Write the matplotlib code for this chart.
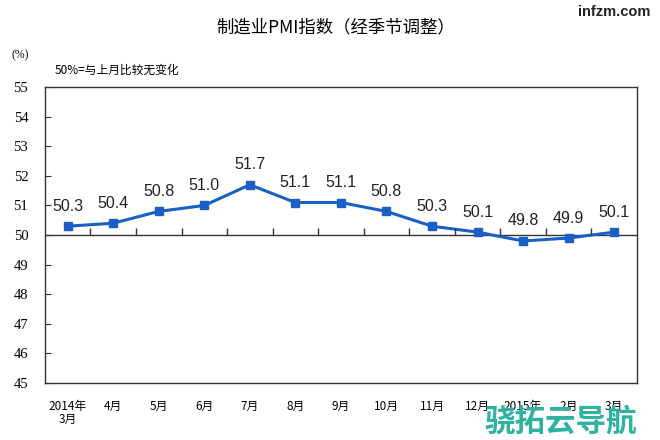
import numpy as np
import matplotlib.pyplot as plt

plt.rcParams['font.family'] = ['Noto Sans CJK SC', 'DejaVu Sans']

months = ['2014年\n3月', '4月', '5月', '6月', '7月', '8月', '9月', '10月',
          '11月', '12月', '2015年', '2月', '3月']
pmi = [50.3, 50.4, 50.8, 51.0, 51.7, 51.1, 51.1, 50.8, 50.3, 50.1, 49.8, 49.9, 50.1]
yticks = [45, 46, 47, 48, 49, 50, 51, 52, 53, 54, 55]

blue = '#1a5fc6'
x = np.arange(len(months))

fig = plt.figure(figsize=(6.6, 4.4), dpi=100)
ax = fig.add_axes([0.068, 0.1295, 0.897, 0.6725])

ax.plot(x, pmi, color=blue, lw=2.2, marker='s', ms=6, mfc=blue, mec=blue)
for xi, v in zip(x, pmi):
    ax.annotate(f'{v:.1f}', (xi, v), xytext=(0, 9), textcoords='offset points',
                ha='center', va='bottom', fontsize=11.5, family='Liberation Sans',
                color='#222222')

# 50 baseline with category boundary ticks
ax.axhline(50, color='#333333', lw=1.0, zorder=1)
ax.vlines(np.arange(0.5, len(months) - 1), 50, 50.24, color='#333333', lw=1.0)

ax.set_xlim(-0.5, len(months) - 0.5)
ax.set_ylim(45, 55)
ax.set_yticks(yticks)
ax.set_yticklabels([str(t) for t in yticks], family='Liberation Serif', fontsize=10.5)
ax.tick_params(axis='y', direction='in', length=4, pad=12, color='#333333')
ax.set_xticks(x)
ax.set_xticklabels(months, fontsize=8.5, linespacing=1.0)
ax.tick_params(axis='x', length=0, pad=12)
for s in ax.spines.values():
    s.set_color('#333333')
    s.set_linewidth(1.0)

fig.text(0.508, 0.938, '制造业PMI指数（经季节调整）', ha='center', va='center', fontsize=12.5)
fig.text(0.985, 0.972, 'infzm.com', ha='right', va='center', fontsize=10.5,
         fontweight='bold', family='Liberation Sans', color='#222222')
fig.text(0.018, 0.875, '(%)', ha='left', va='center', fontsize=8.5, family='Liberation Serif')
fig.text(0.083, 0.84, '50%=与上月比较无变化', ha='left', va='center', fontsize=8.5)
fig.text(0.85, 0.042, '骁拓云导航', ha='center', va='center', fontsize=22,
         fontweight='bold', color='#2db39f', style='italic', zorder=5)

fig.savefig('out.png', dpi=100)
